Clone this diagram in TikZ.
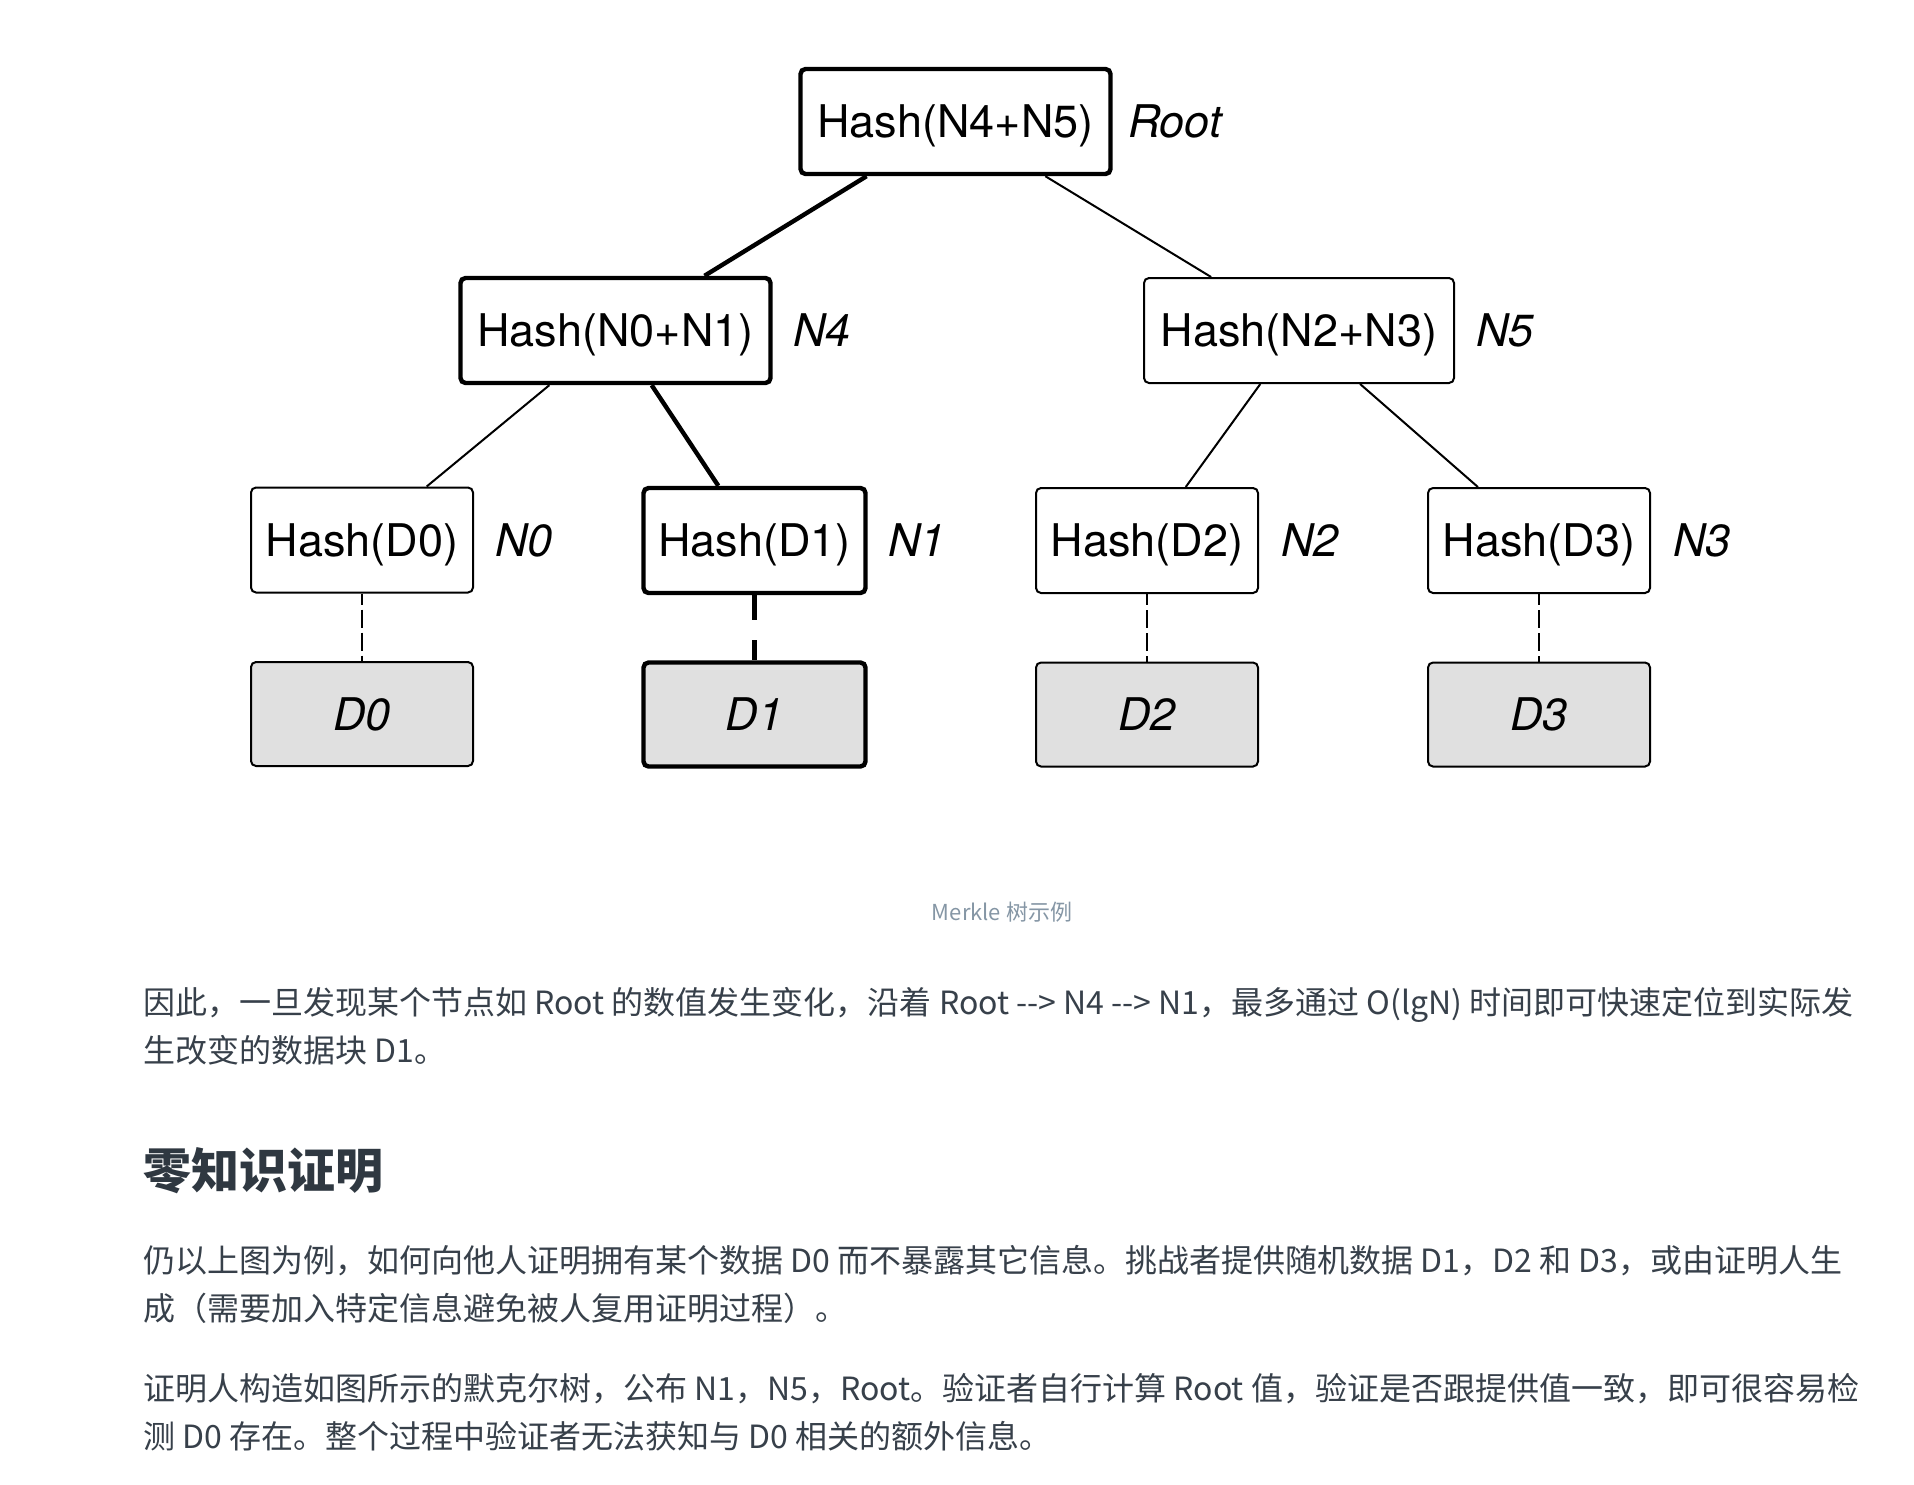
\documentclass[tikz,border=0pt]{standalone}
\usepackage{fontspec}
\setmainfont{TeX Gyre Heros}
\newfontfamily\cjk{Noto Sans CJK SC}
\usetikzlibrary{positioning}

\definecolor{datagray}{HTML}{E0E0E0}
\definecolor{bodytext}{HTML}{37404A}
\definecolor{headtext}{HTML}{2F3841}
\definecolor{captiontext}{HTML}{8596A5}

\begin{document}
\begin{tikzpicture}[x=0.5pt,y=-0.5pt,
  hashbox/.style={draw,line width=1pt,rounded corners=2.5pt,minimum width=155pt,minimum height=52.5pt,inner sep=0pt,text depth=0pt,font=\fontsize{22.5}{27}\selectfont},
  leafbox/.style={hashbox,minimum width=111pt,minimum height=52.5pt},
  databox/.style={leafbox,minimum height=52pt,fill=datagray,font=\fontsize{22.5}{27}\selectfont\itshape},
  hot/.style={line width=2.2pt},
  tag/.style={font=\fontsize{22.5}{27}\selectfont\itshape,inner sep=0pt,anchor=west},
  link/.style={line width=1pt},
  dashlink/.style={line width=1pt,dash pattern=on 9pt off 2.5pt,dash phase=3.5pt},
  textline/.style={anchor=base west,inner sep=0pt,text=bodytext,font=\cjk\fontsize{16}{24}\selectfont}
]
\useasboundingbox (0,0) rectangle (1914,1484);
\fill[white] (0,0) rectangle (1914,1484);

% tree
\node[hashbox,hot] (root) at (955.5,121.5) {Hash(N4+N5)};
\node[tag,right=7.5pt of root] (rootlbl) {Root};

\node[hashbox,hot] (n4) at (615.5,330.5) {Hash(N0+N1)};
\node[tag,right=10pt of n4] (n4lbl) {N4};
\node[hashbox] (n5) at (1299,330.5) {Hash(N2+N3)};
\node[tag,right=10.5pt of n5] (n5lbl) {N5};

\node[leafbox] (n0) at (362,540) {Hash(D0)};
\node[tag,right=10.5pt of n0] (n0lbl) {N0};
\node[leafbox,hot] (n1) at (754.5,540.5) {Hash(D1)};
\node[tag,right=10pt of n1] (n1lbl) {N1};
\node[leafbox] (n2) at (1147,540.5) {Hash(D2)};
\node[tag,right=11pt of n2] (n2lbl) {N2};
\node[leafbox] (n3) at (1539,540.5) {Hash(D3)};
\node[tag,right=11pt of n3] (n3lbl) {N3};

\node[databox] (d0) at (362,714) {D0};
\node[databox,hot] (d1) at (754.5,714.5) {D1};
\node[databox] (d2) at (1147,714.5) {D2};
\node[databox] (d3) at (1539,714.5) {D3};

\draw[link,hot] (root) -- (n4);
\draw[link] (root) -- (n5);
\draw[link] (n4) -- (n0);
\draw[link,hot] (n4) -- (n1);
\draw[link] (n5) -- (n2);
\draw[link] (n5) -- (n3);

\draw[dashlink] (n0) -- (d0);
\draw[dashlink,hot,dash pattern=on 12.5pt off 10pt,dash phase=0pt] (n1) -- (d1);
\draw[dashlink] (n2) -- (d2);
\draw[dashlink] (n3) -- (d3);

% caption and text below
\node[anchor=base,inner sep=0pt,text=captiontext,font=\cjk\fontsize{11}{13}\selectfont] (caption) at (1002,920) {Merkle 树示例};

\node[textline] (p1a) at (143,1014) {因此，一旦发现某个节点如 Root 的数值发生变化，沿着 Root -{}-> N4 -{}-> N1，最多通过 O(lgN) 时间即可快速定位到实际发};
\node[textline] (p1b) at (143,1062) {生改变的数据块 D1。};

\node[textline,text=headtext,font=\cjk\bfseries\fontsize{24}{30}\selectfont] (head) at (143,1188) {零知识证明};

\node[textline] (p2a) at (143,1272) {仍以上图为例，如何向他人证明拥有某个数据 D0 而不暴露其它信息。挑战者提供随机数据 D1，D2 和 D3，或由证明人生};
\node[textline] (p2b) at (143,1320) {成（需要加入特定信息避免被人复用证明过程）。};

\node[textline] (p3a) at (143,1400) {证明人构造如图所示的默克尔树，公布 N1，N5，Root。验证者自行计算 Root 值，验证是否跟提供值一致，即可很容易检};
\node[textline] (p3b) at (143,1448) {测 D0 存在。整个过程中验证者无法获知与 D0 相关的额外信息。};

\end{tikzpicture}
\end{document}
